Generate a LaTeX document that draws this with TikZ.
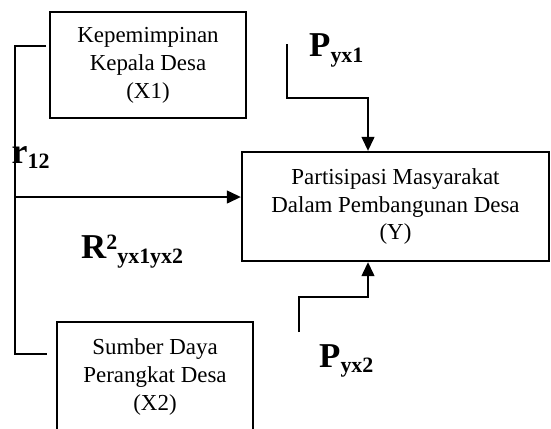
\documentclass[tikz,border=0pt]{standalone}
\usepackage{fontspec}
\setmainfont{Liberation Serif}
\usetikzlibrary{arrows.meta}

% bold symbol with a lowered subscript: #1 symbol, #2 subscript, #3 drop in bp
\newcommand\coefsym[3]{{\fontsize{35}{35}\selectfont\bfseries #1}\raisebox{-#3bp}{\fontsize{22}{22}\selectfont\bfseries #2}}
% three centred lines set a little below the box centre
\newcommand\boxtext[1]{\raisebox{-4bp}{\begin{tabular}{@{}c@{}}#1\end{tabular}}}

\tikzset{
  varbox/.style={draw, line width=2.4bp, inner sep=0pt,
    font=\fontsize{23}{28}\selectfont},
  link/.style={line width=1.3bp},
  bracket/.style={line width=2bp},
  tip/.style={-{Triangle[length=14bp,width=13bp]}},
  coef/.style={inner sep=0pt, anchor=base west}
}

\begin{document}
\begin{tikzpicture}[x=1bp, y=-1bp]
  \useasboundingbox (0,0) rectangle (551,428);
  \clip (0,0) rectangle (551,428);

  % variable boxes
  \node[varbox, minimum width=196bp, minimum height=106bp] (x1) at (148,65)
    {\boxtext{Kepemimpinan\\Kepala Desa\\(X1)}};
  \node[varbox, minimum width=196bp, minimum height=110bp] (x2) at (155,377)
    {\boxtext{Sumber Daya\\Perangkat Desa\\(X2)}};
  \node[varbox, minimum width=307bp, minimum height=109bp] (y) at (395.5,206.5)
    {\boxtext{Partisipasi Masyarakat\\Dalam Pembangunan Desa\\(Y)}};

  % correlation bracket between X1 and X2
  \coordinate (b1) at (46,46);
  \coordinate (b2) at (47,354);
  \draw[bracket] (b1) -- (15,46) -- (15,354) -- (b2);

  % joint effect arrow into Y
  \coordinate (a0) at (15,197);
  \draw[link, tip] (a0) -- (a0 -| y.west);

  % path from epsilon 1 into Y
  \coordinate (p1) at (287,44);
  \coordinate (p1k) at (368,98);
  \draw[link, tip] (p1) |- (p1k) -- (p1k |- y.north);

  % path from epsilon 2 into Y
  \coordinate (p2) at (299,332);
  \coordinate (p2k) at (368,297);
  \draw[link, tip] (p2) |- (p2k) -- (p2k |- y.south);

  % coefficient labels
  \node[coef] (lp1) at (309,56) {\coefsym{P}{yx1}{6}};
  \node[coef] (lp2) at (319,367) {\coefsym{P}{yx2}{5}};
  \node[coef] (lr) at (11.5,163) {{\fontsize{36}{36}\selectfont\bfseries r}\raisebox{-5bp}{\fontsize{22}{22}\selectfont\bfseries 12}};
  \node[coef] (lR) at (81,258) {{\fontsize{35}{35}\selectfont\bfseries R}\raisebox{9bp}{\fontsize{22}{22}\selectfont\bfseries 2}\raisebox{-5bp}{\fontsize{22}{22}\selectfont\bfseries yx1yx2}};
\end{tikzpicture}
\end{document}
